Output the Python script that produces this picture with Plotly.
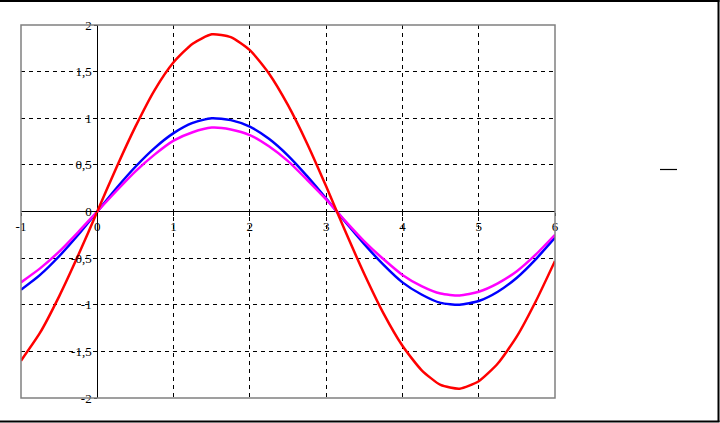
import plotly.graph_objects as go

x_vals = [-1, -0.75, -0.5, -0.25, 0, 0.25, 0.5, 0.75, 1, 1.25, 1.5, 1.75, 2, 2.25, 2.5,
          2.75, 3, 3.25, 3.5, 3.75, 4, 4.25, 4.5, 4.75, 5, 5.25, 5.5, 5.75, 6]

red_vals = [-1.60, -1.30, -0.91, -0.47, 0.00, 0.47, 0.91, 1.30, 1.60, 1.80, 1.90, 1.87, 1.73,
            1.48, 1.14, 0.73, 0.27, -0.21, -0.67, -1.09, -1.44, -1.70, -1.86, -1.90, -1.82,
            -1.63, -1.34, -0.96, -0.53]

blue_vals = [-0.84, -0.68, -0.48, -0.25, 0.00, 0.25, 0.48, 0.68, 0.84, 0.95, 1.00, 0.98, 0.91,
             0.78, 0.60, 0.38, 0.14, -0.11, -0.35, -0.57, -0.76, -0.89, -0.98, -1.00, -0.96,
             -0.86, -0.71, -0.51, -0.28]

magenta_vals = [-0.76, -0.61, -0.43, -0.22, 0.00, 0.22, 0.43, 0.61, 0.76, 0.85, 0.90, 0.88, 0.82,
                0.70, 0.54, 0.34, 0.13, -0.10, -0.32, -0.51, -0.68, -0.80, -0.88, -0.90, -0.86,
                -0.77, -0.64, -0.46, -0.25]

x_ticks = [-1, 0, 1, 2, 3, 4, 5, 6]
x_tick_text = ["-1", "0", "1", "2", "3", "4", "5", "6"]
y_ticks = [-2, -1.5, -1, -0.5, 0, 0.5, 1, 1.5, 2]
y_tick_text = ["-2", "-1,5", "-1", "-0,5", "0", "0,5", "1", "1,5", "2"]

W, H = 720, 423
L, R, T, B = 21, 555, 25, 398


def px(xp):
    return (xp - L) / (R - L)


def py(yp):
    return (B - yp) / (B - T)


fig = go.Figure()
for vals, col in [(blue_vals, "#0000FF"), (magenta_vals, "#FF00FF"), (red_vals, "#FF0000")]:
    fig.add_trace(go.Scatter(x=x_vals, y=vals, mode="lines",
                             line=dict(color=col, width=2.5, shape="spline", smoothing=0.6),
                             showlegend=False, hoverinfo="skip"))

font = dict(family="Liberation Serif, Times New Roman, serif", size=13, color="black")

fig.update_layout(
    width=W, height=H,
    margin=dict(l=L, r=W - R, t=T, b=H - B, autoexpand=False),
    paper_bgcolor="white", plot_bgcolor="white",
    showlegend=False,
    xaxis=dict(range=[-1, 6], anchor="free", position=0.5,
               tickvals=x_ticks, ticktext=x_tick_text, tickfont=font,
               ticks="outside", ticklen=3, tickcolor="black",
               showgrid=True, gridcolor="black", gridwidth=1, griddash="4px,4px",
               zeroline=True, zerolinecolor="black", zerolinewidth=1,
               showline=False, fixedrange=True),
    yaxis=dict(range=[-2, 2], anchor="free", position=1 / 7,
               tickvals=y_ticks, ticktext=y_tick_text, tickfont=font,
               ticks="outside", ticklen=3, tickcolor="black",
               showgrid=True, gridcolor="black", gridwidth=1, griddash="4px,4px",
               zeroline=True, zerolinecolor="black", zerolinewidth=1,
               showline=False, fixedrange=True),
    shapes=[
        dict(type="rect", xref="paper", yref="paper", x0=0, y0=0, x1=1, y1=1,
             line=dict(color="#808080", width=1.5)),
        # outer frame (top, right, bottom)
        dict(type="line", xref="paper", yref="paper", x0=px(0), x1=px(719.5), y0=py(1), y1=py(1),
             line=dict(color="black", width=2)),
        dict(type="line", xref="paper", yref="paper", x0=px(718.5), x1=px(718.5), y0=py(0), y1=py(422),
             line=dict(color="black", width=2)),
        dict(type="line", xref="paper", yref="paper", x0=px(0), x1=px(719.5), y0=py(421.5), y1=py(421.5),
             line=dict(color="black", width=2)),
        # small legend marker
        dict(type="line", xref="paper", yref="paper", x0=px(660), x1=px(677), y0=py(169.5), y1=py(169.5),
             line=dict(color="black", width=1.2)),
    ],
)

fig.write_html("out.html", config={"displayModeBar": False},
               post_script="document.body.style.margin='0';")
